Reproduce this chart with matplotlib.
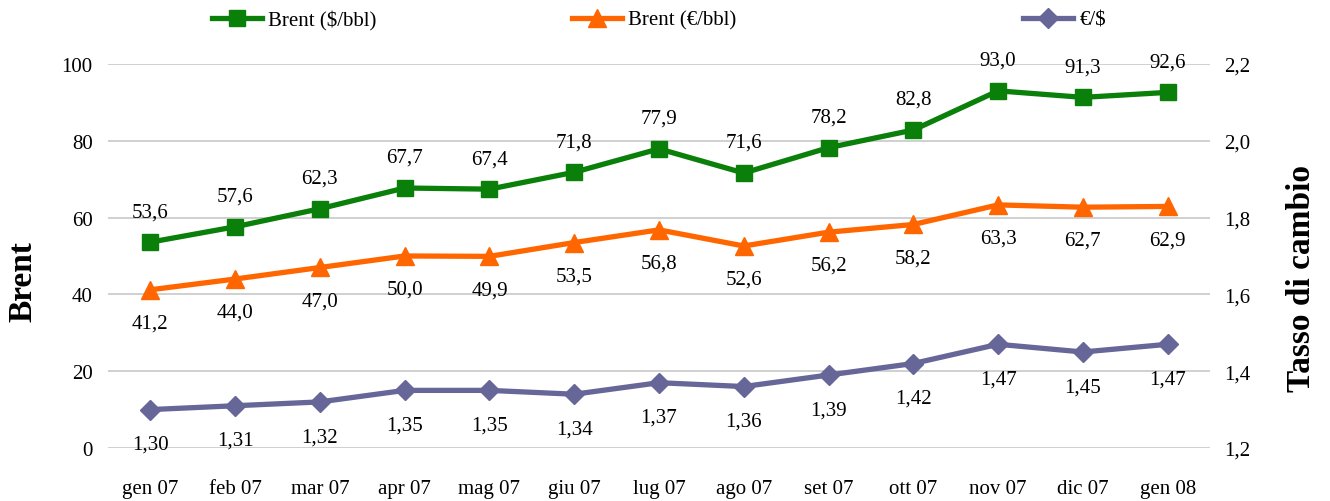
import matplotlib.pyplot as plt
from matplotlib.lines import Line2D

plt.rcParams['font.family'] = ['Liberation Serif', 'DejaVu Serif']

mesi = ['gen 07', 'feb 07', 'mar 07', 'apr 07', 'mag 07', 'giu 07', 'lug 07',
        'ago 07', 'set 07', 'ott 07', 'nov 07', 'dic 07', 'gen 08']
brent_usd = [53.6, 57.6, 62.3, 67.7, 67.4, 71.8, 77.9, 71.6, 78.2, 82.8, 93.0, 91.3, 92.6]
brent_eur = [41.2, 44.0, 47.0, 50.0, 49.9, 53.5, 56.8, 52.6, 56.2, 58.2, 63.3, 62.7, 62.9]
cambio = [1.30, 1.31, 1.32, 1.35, 1.35, 1.34, 1.37, 1.36, 1.39, 1.42, 1.47, 1.45, 1.47]

verde = '#0a7f0a'
arancio = '#ff6600'
viola = '#666699'
fs = 15

fig = plt.figure(figsize=(13.3, 5.02), dpi=100)
ax = fig.add_axes([0.0812, 0.1056, 0.8286, 0.765])
ax2 = ax.twinx()

x = list(range(len(mesi)))


def virgola(v, dec):
    return f'{v:.{dec}f}'.replace('.', ',')


ax.plot(x, brent_usd, color=verde, lw=3.8, marker='s', ms=11.5, zorder=3)
ax.plot(x, brent_eur, color=arancio, lw=3.8, marker='^', ms=12.5, zorder=3)
ax2.plot(x, cambio, color=viola, lw=3.8, marker='D', ms=10.5, zorder=3)

for i in x:
    ax.annotate(virgola(brent_usd[i], 1), (i, brent_usd[i]), xytext=(0, 22),
                textcoords='offset points', ha='center', va='center', fontsize=fs)
    ax.annotate(virgola(brent_eur[i], 1), (i, brent_eur[i]), xytext=(0, -24),
                textcoords='offset points', ha='center', va='center', fontsize=fs)
    ax2.annotate(virgola(cambio[i], 2), (i, cambio[i]), xytext=(0, -25),
                 textcoords='offset points', ha='center', va='center', fontsize=fs)

ax.set_xlim(-0.5, len(mesi) - 0.5)
ax.set_ylim(0, 100)
ax.set_yticks(range(0, 101, 20))
ax2.set_ylim(1.2, 2.2)
ax2.set_yticks([1.2, 1.4, 1.6, 1.8, 2.0, 2.2])
ax2.set_yticklabels([virgola(v, 1) for v in [1.2, 1.4, 1.6, 1.8, 2.0, 2.2]])

ax.set_xticks(x)
ax.set_xticklabels(mesi)
ax.grid(axis='y', color='#c8c8c8', lw=1.2)
ax.set_axisbelow(True)

for a in (ax, ax2):
    for s in a.spines.values():
        s.set_visible(False)
    a.tick_params(length=0, labelsize=fs)
ax.tick_params(axis='y', pad=11)
ax.tick_params(axis='x', pad=22)
ax2.tick_params(axis='y', pad=10)

fig.text(23 / 1330, 0.440, 'Brent', fontsize=24, fontweight='bold',
         rotation=90, ha='center', va='center')
fig.text(1302 / 1330, 0.446, 'Tasso di cambio', fontsize=24, fontweight='bold',
         rotation=90, ha='center', va='center')

# legenda in alto, tre voci separate
voci = [
    (Line2D([], [], color=verde, lw=3.8, marker='s', ms=11.5), 'Brent ($/bbl)', 0.1594),
    (Line2D([], [], color=arancio, lw=3.8, marker='^', ms=12.5), 'Brent (€/bbl)', 0.4301),
    (Line2D([], [], color=viola, lw=3.8, marker='D', ms=10.5), '€/$', 0.7692),
]
for h, testo, xpos in voci:
    fig.legend([h], [testo], loc='center left', bbox_to_anchor=(xpos, 0.958),
               frameon=False, fontsize=fs, handlelength=2.4, handletextpad=0.3,
               borderaxespad=0, borderpad=0)

fig.savefig('out.png', dpi=100)
